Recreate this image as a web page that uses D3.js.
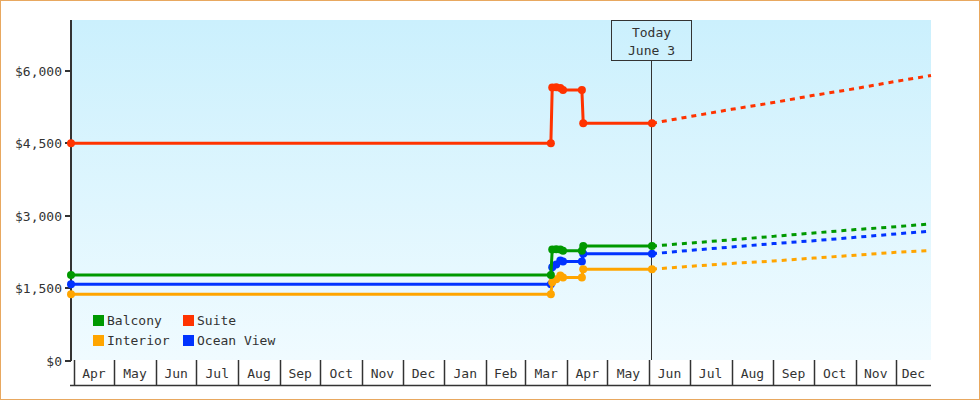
<!DOCTYPE html>
<html>
<head>
<meta charset="utf-8">
<script src="https://cdn.jsdelivr.net/npm/d3@7"></script>
<style>
  body { margin: 0; background: #fff; }
  svg { display: block; }
  text { font-family: "DejaVu Sans Mono", monospace; fill: #333; }
</style>
</head>
<body>
<div id="chart"></div>
<script>
// price history (solid) and forecast (dashed)
var histDates = ["2023-03-30","2024-03-20","2024-03-21","2024-03-24","2024-03-27","2024-03-29","2024-04-12","2024-04-13","2024-06-03"]
var suite     = [4500,4500,5650,5660,5640,5600,5600,4910,4910]
var balcony   = [1770,1770,2300,2305,2300,2270,2270,2370,2370]
var oceanView = [1580,1580,1930,1990,2070,2050,2050,2210,2210]
var interior  = [1370,1370,1620,1680,1760,1720,1720,1890,1890]

var forecastDates     = ["2024-06-03","2024-07-01","2024-08-01","2024-09-01","2024-10-01","2024-11-01","2024-12-01","2024-12-27"]
var suiteForecast     = [4910,5050,5200,5340,5490,5630,5780,5900]
var balconyForecast   = [2370,2430,2500,2570,2640,2710,2770,2830]
var oceanViewForecast = [2210,2280,2350,2420,2480,2550,2620,2680]
var interiorForecast  = [1890,1950,2010,2060,2120,2180,2240,2280]

var yTicks = [0,1500,3000,4500,6000]
var today = "2024-06-03"
var todayLabel = ["Today","June 3"]

var width = 980, height = 400
var plotL = 71, plotR = 931, plotT = 20, plotB = 360

var parse = d3.timeParse("%Y-%m-%d")
var colors = {Balcony:"#009900", Suite:"#ff3300", Interior:"#ffa500", "Ocean View":"#0033ff"}

var series = [
	{name:"Ocean View", hist:oceanView, fc:oceanViewForecast},
	{name:"Interior", hist:interior, fc:interiorForecast},
	{name:"Balcony", hist:balcony, fc:balconyForecast},
	{name:"Suite", hist:suite, fc:suiteForecast}
]

var x = d3.scaleTime()
	.domain([parse(histDates[0]), parse(forecastDates[forecastDates.length-1])])
	.range([plotL, plotR])
var y = d3.scaleLinear().domain([0, 7050]).range([plotB + 0.5, plotT])

var svg = d3.select("#chart").append("svg").attr("width", width).attr("height", height)

// frame
svg.append("rect").attr("x",0.5).attr("y",0.5).attr("width",width-1).attr("height",height-1)
	.attr("fill","#fff").attr("stroke","#e8a860")

var grad = svg.append("defs").append("linearGradient").attr("id","bg")
	.attr("x1",0).attr("y1",0).attr("x2",0).attr("y2",1)
grad.append("stop").attr("offset","0%").attr("stop-color","#cbf0fd")
grad.append("stop").attr("offset","100%").attr("stop-color","#f0fbff")

svg.append("rect").attr("x",plotL).attr("y",plotT).attr("width",plotR-plotL).attr("height",plotB-plotT)
	.attr("fill","url(#bg)")

// month cells under the plot
var months = d3.timeMonth.range(d3.timeMonth.ceil(x.domain()[0]), x.domain()[1])
var fmt = d3.timeFormat("%b")
var axisG = svg.append("g")
axisG.append("line").attr("x1",plotL-1).attr("x2",plotR).attr("y1",385.5).attr("y2",385.5)
	.attr("stroke","#333").attr("stroke-width",1.5)
months.forEach(function(m, i){
	var x0 = Math.round(x(m)) + 0.5
	var next = i < months.length-1 ? months[i+1] : x.domain()[1]
	axisG.append("line").attr("x1",x0).attr("x2",x0).attr("y1",plotB).attr("y2",385)
		.attr("stroke","#333").attr("stroke-width",1.5)
	axisG.append("text").text(fmt(m))
		.attr("x",(x(m)+x(next))/2).attr("y",378)
		.attr("text-anchor","middle").style("font-size","13px")
})

// y axis
svg.append("line").attr("x1",plotL).attr("x2",plotL).attr("y1",plotT).attr("y2",plotB+1)
	.attr("stroke","#333").attr("stroke-width",2)
yTicks.forEach(function(t){
	var yy = Math.round(y(t))
	svg.append("line").attr("x1",plotL-6).attr("x2",plotL).attr("y1",yy).attr("y2",yy)
		.attr("stroke","#333").attr("stroke-width",2)
	svg.append("text").text("$" + d3.format(",")(t))
		.attr("x",plotL-9).attr("y",yy+4.5).attr("text-anchor","end").style("font-size","13px")
})

// today marker
var tx = Math.floor(x(parse(today))) + 0.5
svg.append("line").attr("x1",tx).attr("x2",tx).attr("y1",60).attr("y2",plotB)
	.attr("stroke","#333").attr("stroke-width",1)
svg.append("rect").attr("x",tx-40).attr("y",20.5).attr("width",80).attr("height",40)
	.attr("fill","none").attr("stroke","#333").attr("stroke-width",1)
todayLabel.forEach(function(s, i){
	svg.append("text").text(s).attr("x",tx).attr("y",37 + i*18)
		.attr("text-anchor","middle").style("font-size","13px")
})

// lines
var line = d3.line().x(function(d){ return x(d[0]) }).y(function(d){ return y(d[1]) })

series.forEach(function(s){
	var c = colors[s.name]
	var fc = forecastDates.map(function(d, i){ return [parse(d), s.fc[i]] })
	svg.append("path").attr("d", line(fc)).attr("fill","none").attr("stroke",c)
		.attr("stroke-width",3).attr("stroke-dasharray","5,5")
})
series.forEach(function(s){
	var c = colors[s.name]
	var pts = histDates.map(function(d, i){ return [parse(d), s.hist[i]] })
	svg.append("path").attr("d", line(pts)).attr("fill","none").attr("stroke",c).attr("stroke-width",3)
	svg.selectAll(null).data(pts).enter().append("circle")
		.attr("cx", function(d){ return x(d[0]) }).attr("cy", function(d){ return y(d[1]) })
		.attr("r",4).attr("fill",c)
})

// legend
var legend = [
	{name:"Balcony", x:93, y:315},
	{name:"Suite", x:183, y:315},
	{name:"Interior", x:93, y:335},
	{name:"Ocean View", x:183, y:335}
]
legend.forEach(function(l){
	svg.append("rect").attr("x",l.x).attr("y",l.y).attr("width",11).attr("height",11).attr("fill",colors[l.name])
	svg.append("text").text(l.name).attr("x",l.x+14).attr("y",l.y+10).style("font-size","13px")
})
</script>
</body>
</html>
